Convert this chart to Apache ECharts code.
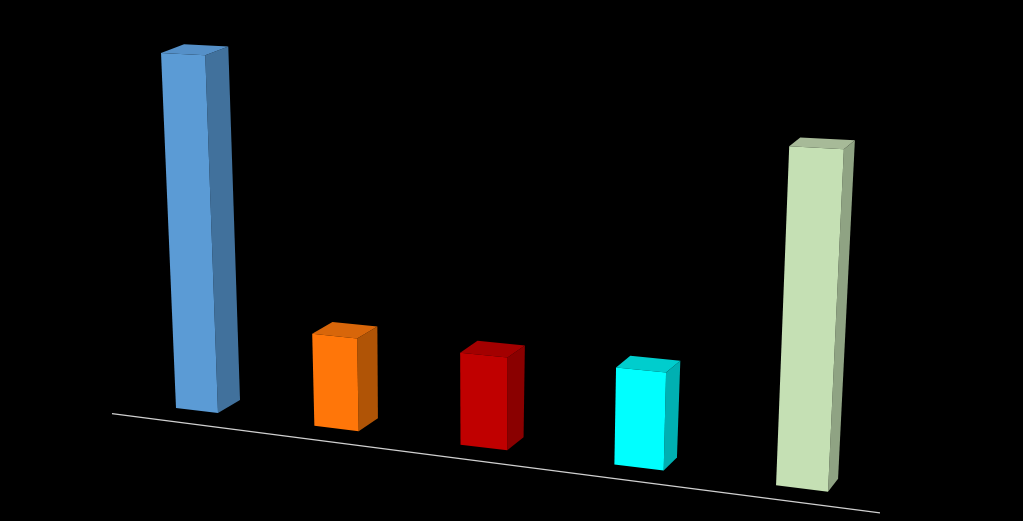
<!DOCTYPE html>
<html>
<head>
<meta charset="utf-8">
<style>
  html, body { margin: 0; padding: 0; background: #000; }
  #chart { width: 1023px; height: 521px; }
</style>
<script src="https://cdn.jsdelivr.net/npm/echarts@6/dist/echarts.min.js"></script>
</head>
<body>
<div id="chart"></div>
<script>
// data (no labels are shown in the original)
const categories = ['1', '2', '3', '4', '5'];
const values = [35.5, 9.2, 9.2, 9.7, 33.9];

const frontColors = ['#5b9bd5', '#ff7609', '#c00000', '#00ffff', '#c5e0b4'];
const sideColors = ['#41719c', '#b05406', '#8a0000', '#00b0b2', '#8fa383'];
const topColors = ['#5590c8', '#d8660a', '#a30000', '#00cdcd', '#a7ba98'];

// fake perspective: floor tilts down to the right, bars get nearer
const SLOPE = 0.129;

function persX(u, cs) {
  const step = cs.width / categories.length;
  const t = (u - cs.x - step / 2) / step;
  return cs.x + step / 2 + t * (step * 0.904 + step * 0.0261 * t);
}

function renderBar(params, api) {
  const cs = params.coordSys;
  const i = api.value(0);
  const base = api.coord([i, 0]);
  const top = api.coord([i, api.value(1)]);
  const h = base[1] - top[1];
  const step = cs.width / categories.length;

  const cx = persX(base[0], cs);
  const p = cx - cs.x;
  const w = step * 0.2717 * (1 + 4.055e-4 * p);

  const xl = cx - w / 2;
  const xr = cx + w / 2;
  const BL = [xl, base[1] + SLOPE * (xl - cs.x)];
  const BR = [xr, base[1] + SLOPE * (xr - cs.x) - 0.4];

  // verticals lean away from a point near the middle
  const lean = (cx - (cs.x + 0.52 * cs.width)) * 1.34e-4 * h;
  const TL = [xl + lean, BL[1] - h];
  const topW = w * (1 + 0.00015 * h);
  const topSlope = 0.12 - 0.0002 * h;
  const TR = [TL[0] + topW, TL[1] + topSlope * topW];

  const dx = 23.5 - 0.0198 * p;
  const db = [dx, -13];
  const dt = [dx + 1, -13 + 0.012 * h];
  const add = (a, d) => [a[0] + d[0], a[1] + d[1]];

  return {
    type: 'group',
    children: [
      {
        type: 'polygon',
        shape: { points: [BR, add(BR, db), add(TR, dt), TR] },
        style: { fill: sideColors[i] }
      },
      {
        type: 'polygon',
        shape: { points: [TL, TR, add(TR, dt), add(TL, dt)] },
        style: { fill: topColors[i] }
      },
      {
        type: 'polygon',
        shape: { points: [BL, BR, TR, TL] },
        style: { fill: frontColors[i] }
      }
    ]
  };
}

function renderFloor(params, api) {
  const cs = params.coordSys;
  const y0 = cs.y + cs.height + 14;
  const x1 = cs.x - 10;
  const x2 = cs.x + cs.width + 8;
  return {
    type: 'line',
    shape: {
      x1: x1, y1: y0 + SLOPE * (x1 - cs.x),
      x2: x2, y2: y0 + SLOPE * (x2 - cs.x)
    },
    style: { stroke: '#d0d0d0', lineWidth: 1.2 }
  };
}

const chart = echarts.init(document.getElementById('chart'));
chart.setOption({
  backgroundColor: '#000',
  animation: false,
  grid: { left: 122, right: 151, top: 1, bottom: 120, containLabel: false },
  xAxis: { type: 'category', data: categories, show: false },
  yAxis: { type: 'value', min: 0, max: 40, show: false },
  series: [
    {
      type: 'custom',
      renderItem: renderFloor,
      data: [[0, 0]],
      silent: true,
      z: 1
    },
    {
      type: 'custom',
      renderItem: renderBar,
      encode: { x: 0, y: 1 },
      data: values.map((v, i) => [i, v]),
      silent: true,
      z: 2
    }
  ]
});

window.addEventListener('resize', () => chart.resize());
</script>
</body>
</html>
